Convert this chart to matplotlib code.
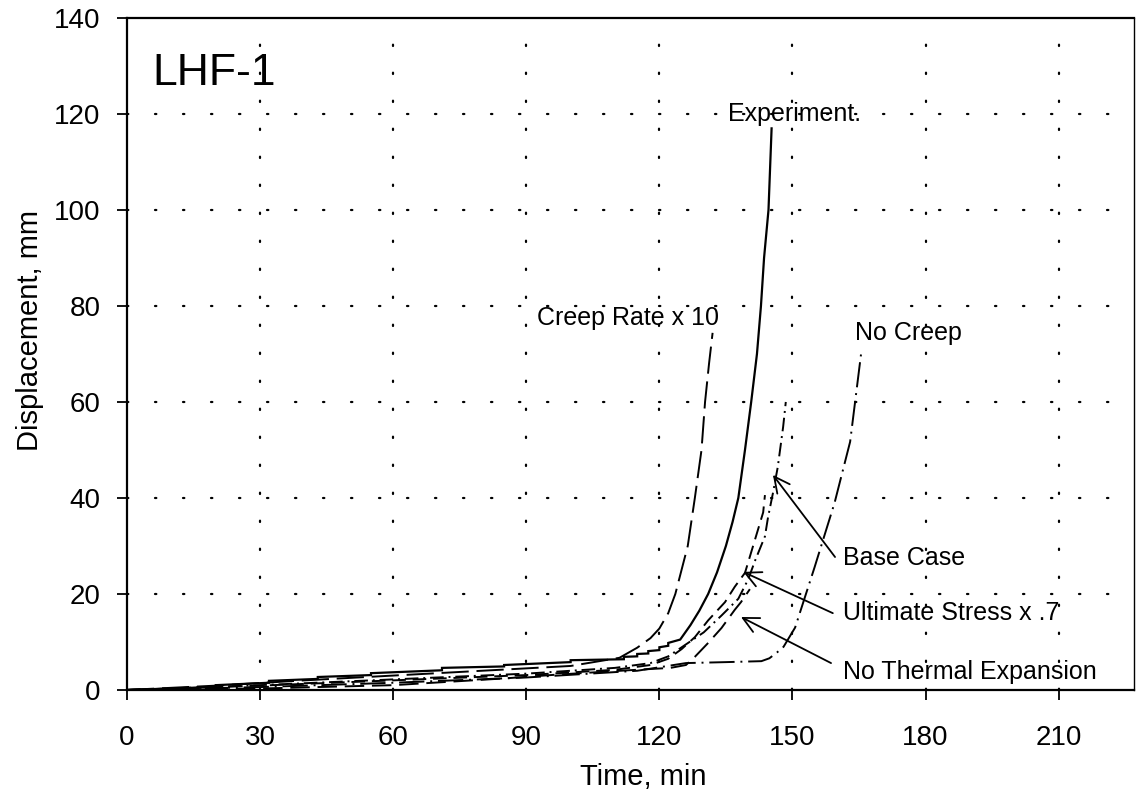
import matplotlib
matplotlib.use("Agg")
import matplotlib.pyplot as plt

plt.rcParams['font.family'] = ['Liberation Sans', 'DejaVu Sans']

# ---- data ----
exp_t = [0, 20, 20, 32, 32, 43, 43, 55, 55, 71, 71, 85, 85, 100, 100, 112, 112,
         115, 115, 117.5, 117.5, 120, 120, 122, 122, 124.7, 127, 129, 131, 133,
         135, 136.5, 137.8, 139.3, 140.7, 142, 142.9, 143.6, 144.6, 145.3]
exp_d = [0, 0.6, 1.0, 1.5, 1.9, 2.3, 2.7, 3.1, 3.5, 4.1, 4.6, 4.9, 5.2, 5.8, 6.2, 6.4, 6.9,
         7.0, 7.5, 7.6, 8.1, 8.3, 8.9, 9.2, 9.8, 10.5, 13.5, 16.5, 20, 24.5,
         30, 35, 40, 50, 60, 70, 80, 90, 100, 117]

cr_t = [0, 20, 40, 60, 80, 100, 111, 115, 118, 120, 122, 123.6, 126.4, 128, 129.5, 130.3, 131.2, 132]
cr_d = [0, 0.9, 2.0, 3.0, 4.0, 5.0, 6.7, 8.8, 10.8, 12.8, 16, 20, 30, 40, 50, 60, 68, 74.4]

nc_t = [0, 30, 60, 90, 115, 126, 135, 143, 144.8, 146.5, 148, 150.6, 155, 159.5, 163, 165.6]
nc_d = [0, 0.6, 1.5, 2.6, 4.0, 5.6, 5.8, 6.0, 6.6, 7.8, 9.0, 13, 25.6, 39, 51.7, 71]

bc_t = [0, 30, 60, 90, 110, 118, 122, 126, 130, 134, 137.8, 140, 141.6, 143.8,
        144.5, 145.6, 146.7, 147.9, 148.5]
bc_d = [0, 1.0, 2.2, 3.4, 4.6, 5.6, 7.0, 9.5, 12, 15.5, 19, 23, 27, 32,
        36, 41, 46.5, 54.8, 60]

us_t = [0, 30, 60, 90, 110, 118, 122, 125, 128, 131, 134.8, 137, 139.3, 140.8, 142.2, 143.4, 143.8]
us_d = [0, 0.9, 2.0, 3.1, 4.2, 5.2, 6.5, 8.5, 11, 14.5, 18.3, 21.5, 24.4, 29, 33.3, 37, 40.6]

nt_t = [0, 30, 60, 85, 97, 113, 122.5, 126, 128, 131, 134, 137, 138.4, 140.4]
nt_d = [0, 0.3, 1.0, 2.4, 3.2, 4.1, 4.6, 5.2, 6.9, 9.8, 12.9, 16.7, 18.3, 21]

x_ticks = [0, 30, 60, 90, 120, 150, 180, 210]
y_ticks = [0, 20, 40, 60, 80, 100, 120, 140]

# ---- figure ----
fig = plt.figure(figsize=(11.37, 8.02), dpi=100)
ax = fig.add_axes([0.1117, 0.1397, 0.8857, 0.8379])

ax.set_xlim(0, 227)
ax.set_ylim(0, 140)

# dotted grid
for xv in x_ticks[1:]:
    ax.axvline(xv, color='black', lw=1.6, linestyle=(0, (0.6, 12)),
               dash_capstyle='round', zorder=1)
for yv in y_ticks[1:-1]:
    ax.axhline(yv, color='black', lw=1.6, linestyle=(0, (0.6, 12)),
               dash_capstyle='round', zorder=1)

lw = 1.4
ax.plot(exp_t, exp_d, color='black', lw=1.6, solid_joinstyle='miter', zorder=3)
ax.plot(cr_t, cr_d, color='black', lw=lw, linestyle=(0, (14, 4)), zorder=3)
ax.plot(nc_t, nc_d, color='black', lw=lw, linestyle=(0, (13, 3, 1, 3)), zorder=3)
ax.plot(bc_t, bc_d, color='black', lw=lw, linestyle=(0, (7, 2.5, 1, 2.5)), zorder=3)
ax.plot(us_t, us_d, color='black', lw=lw, linestyle=(0, (7, 3.5)), zorder=3)
ax.plot(nt_t, nt_d, color='black', lw=lw, linestyle=(0, (10, 4)), zorder=3)

# annotations
fs = 18
ax.text(5.8, 126, 'LHF-1', fontsize=32, ha='left', va='baseline')
ax.text(135.5, 120, 'Experiment.', fontsize=fs, ha='left', va='center')
ax.text(92.4, 77.5, 'Creep Rate x 10', fontsize=fs, ha='left', va='center')
ax.text(164, 74.4, 'No Creep', fontsize=fs, ha='left', va='center')
ax.text(161.3, 27.5, 'Base Case', fontsize=fs, ha='left', va='center')
ax.text(161.3, 16, 'Ultimate Stress x .7', fontsize=fs, ha='left', va='center')
ax.text(161.3, 3.75, 'No Thermal Expansion', fontsize=fs, ha='left', va='center')

arrow = dict(arrowstyle='->', color='black', lw=1.3, mutation_scale=28,
             shrinkA=0, shrinkB=0)
ax.annotate('', xy=(145.6, 44.8), xytext=(159.6, 27.7), arrowprops=arrow)
ax.annotate('', xy=(138.9, 24.6), xytext=(159.1, 16.0), arrowprops=arrow)
ax.annotate('', xy=(138.4, 15.2), xytext=(158.7, 5.6), arrowprops=arrow)

# axes styling
ax.set_xticks(x_ticks)
ax.set_yticks(y_ticks)
ax.tick_params(axis='x', direction='out', length=7, width=1.3, pad=18, labelsize=20)
ax.tick_params(axis='y', direction='out', length=7, width=1.3, pad=12, labelsize=20)
for s in ax.spines.values():
    s.set_linewidth(1.6)
ax.spines['right'].set_linewidth(1.0)

ax.set_xlabel('Time, min', fontsize=21, va='center')
ax.set_ylabel('Displacement, mm', fontsize=21, va='center')
ax.xaxis.set_label_coords(0.513, -0.129)
ax.yaxis.set_label_coords(-0.096, 0.535)

fig.savefig('out.png', dpi=100)
